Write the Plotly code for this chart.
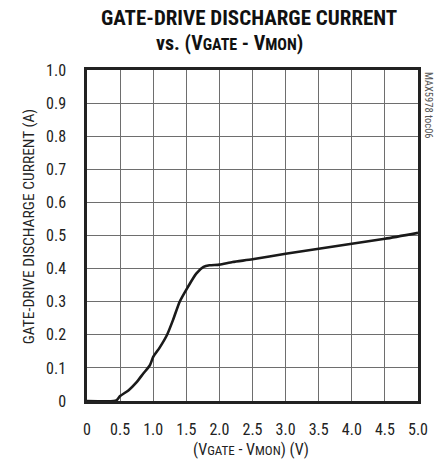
import plotly.graph_objects as go

# Data
vdiff = [0.0, 0.40, 0.45, 0.50, 0.625, 0.75, 0.85, 0.95, 1.0, 1.1, 1.21, 1.30, 1.40, 1.525, 1.65, 1.76, 1.85, 2.0, 2.2, 2.5, 3.0, 3.5, 4.0, 4.5, 5.0]
current = [0.0, 0.0, 0.003, 0.015, 0.032, 0.057, 0.083, 0.108, 0.133, 0.162, 0.200, 0.245, 0.300, 0.345, 0.385, 0.405, 0.410, 0.412, 0.420, 0.428, 0.445, 0.460, 0.475, 0.490, 0.508]

xticks = [0, 0.5, 1.0, 1.5, 2.0, 2.5, 3.0, 3.5, 4.0, 4.5, 5.0]
xtick_labels = ["0", "0.5", "1.0", "1.5", "2.0", "2.5", "3.0", "3.5", "4.0", "4.5", "5.0"]
yticks = [0, 0.1, 0.2, 0.3, 0.4, 0.5, 0.6, 0.7, 0.8, 0.9, 1.0]
ytick_labels = ["0", "0.1", "0.2", "0.3", "0.4", "0.5", "0.6", "0.7", "0.8", "0.9", "1.0"]

FONT = "Liberation Sans Narrow, Roboto Condensed, Arial Narrow, sans-serif"

fig = go.Figure()
fig.add_trace(go.Scatter(x=vdiff, y=current, mode="lines",
                         line=dict(color="#1a1a1a", width=2.6, shape="spline", smoothing=0.6),
                         hoverinfo="skip", showlegend=False))

fig.update_layout(
    width=440, height=467,
    margin=dict(l=87, r=20, t=70, b=66),
    paper_bgcolor="white", plot_bgcolor="white",
    font=dict(family=FONT, color="#222", size=16),
    xaxis=dict(
        range=[0, 5.0], tickvals=xticks, ticktext=xtick_labels,
        showgrid=True, gridcolor="#6e6e6e", gridwidth=1,
        showline=True, linecolor="#222", linewidth=2.5, mirror=True,
        ticks="", zeroline=False, ticklabelstandoff=12,
        tickfont=dict(size=16, color="#222"),
    ),
    yaxis=dict(
        range=[0, 1.0], tickvals=yticks, ticktext=ytick_labels,
        showgrid=True, gridcolor="#6e6e6e", gridwidth=1,
        showline=True, linecolor="#222", linewidth=2.5, mirror=True,
        ticks="", zeroline=False, ticklabelstandoff=15,
        tickfont=dict(size=16, color="#222"),
    ),
)

# Titles
fig.add_annotation(text="<b>GATE-DRIVE DISCHARGE CURRENT</b>", xref="paper", yref="paper",
                   x=0.488, y=1.1586, xanchor="center", yanchor="middle", showarrow=False,
                   font=dict(family=FONT, size=21, color="#111"))
fig.add_annotation(text="<b>vs. (V<span style='font-size:16px'>GATE</span> - V<span style='font-size:16px'>MON</span>)</b>",
                   xref="paper", yref="paper",
                   x=0.431, y=1.083, xanchor="center", yanchor="middle", showarrow=False,
                   font=dict(family=FONT, size=20, color="#111"))
fig.add_annotation(text="(V<span style='font-size:13px'>GATE</span> - V<span style='font-size:13px'>MON</span>) (V)",
                   xref="paper", yref="paper",
                   x=0.495, y=-0.148, xanchor="center", yanchor="middle", showarrow=False,
                   font=dict(family=FONT, size=16, color="#222"))
fig.add_annotation(text="GATE-DRIVE DISCHARGE CURRENT (A)", xref="paper", yref="paper",
                   x=-0.177, y=0.529, xanchor="center", yanchor="middle", textangle=-90,
                   showarrow=False, font=dict(family=FONT, size=15.5, color="#222"))

fig.add_annotation(text="MAX5978 toc06", xref="paper", yref="paper",
                   x=1.0, y=1.0, xanchor="left", yanchor="top", xshift=2,
                   textangle=90, showarrow=False,
                   font=dict(family=FONT, size=10.5, color="#555"))

fig.write_html("out.html", config={"displayModeBar": False},
               post_script="document.body.style.margin='0';")
